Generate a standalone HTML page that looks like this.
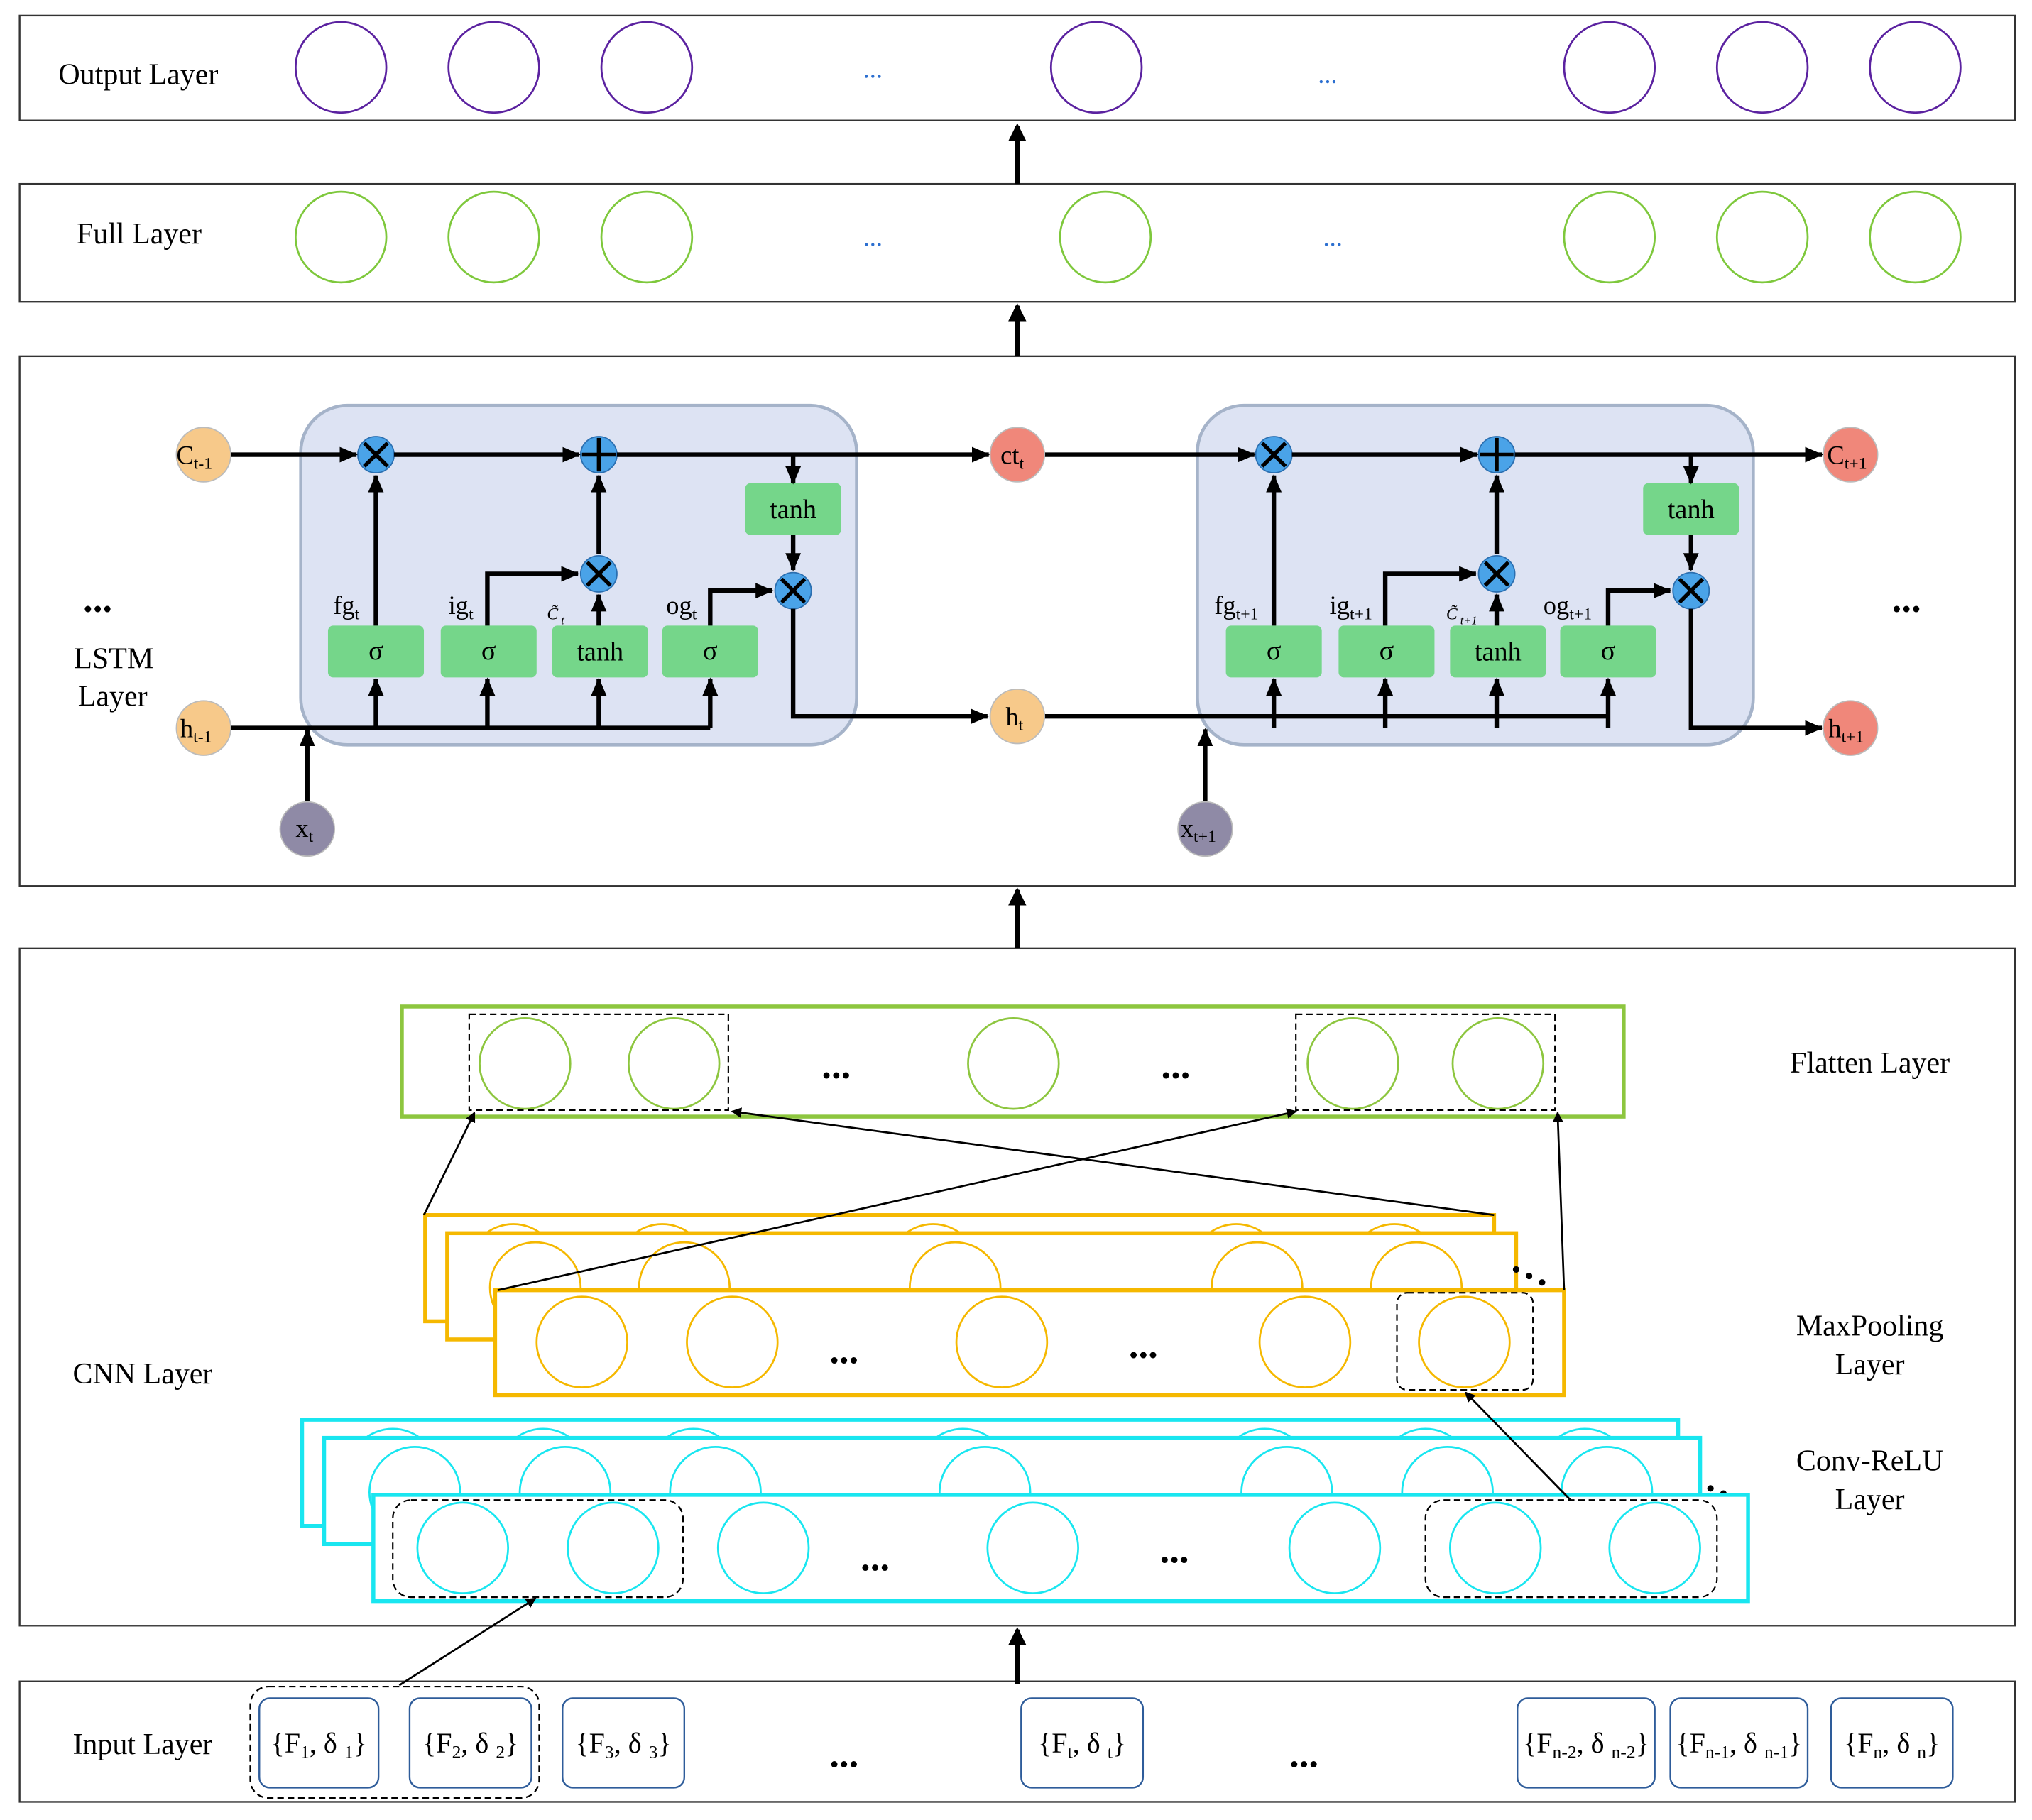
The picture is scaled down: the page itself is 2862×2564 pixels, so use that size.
<!DOCTYPE html>
<html><head><meta charset="utf-8"><style>html,body{margin:0;padding:0;background:#fff}svg{display:block}</style></head><body>
<svg width="2862" height="2564" viewBox="0 0 1568 1405" xmlns="http://www.w3.org/2000/svg" font-family="Liberation Serif, serif">
<defs>
<marker id="ah" markerWidth="8" markerHeight="8" refX="7" refY="4" orient="auto" markerUnits="userSpaceOnUse"><path d="M0,0 L8,4 L0,8 z" fill="#000"/></marker>
<marker id="ab" markerWidth="14" markerHeight="14" refX="12" refY="7" orient="auto" markerUnits="userSpaceOnUse"><path d="M0,0 L14,7 L0,14 z" fill="#000"/></marker>
<marker id="ahs" markerWidth="14" markerHeight="12" refX="13" refY="6" orient="auto" markerUnits="userSpaceOnUse"><path d="M0,0 L14,6 L0,12 z" fill="#000"/></marker>
</defs>
<g fill="none" stroke="#333" stroke-width="1.3">
<rect x="15" y="12" width="1540" height="81"/>
<rect x="15" y="142" width="1540" height="91"/>
<rect x="15" y="275" width="1540" height="409"/>
<rect x="15" y="732" width="1540" height="523"/>
<rect x="15" y="1298" width="1540" height="93"/>
</g>
<g font-size="23" fill="#000">
<text x="45" y="65">Output  Layer</text>
<text x="59" y="188">Full  Layer</text>
<text x="57" y="516">LSTM</text><text x="60" y="545">Layer</text>
<text x="56" y="1068">CNN Layer</text>
<text x="56" y="1354">Input Layer</text>
<text x="1443" y="828" text-anchor="middle">Flatten Layer</text>
<text x="1443" y="1031" text-anchor="middle">MaxPooling</text><text x="1443" y="1061" text-anchor="middle">Layer</text>
<text x="1443" y="1135" text-anchor="middle">Conv-ReLU</text><text x="1443" y="1165" text-anchor="middle">Layer</text>
</g>
<g fill="none" stroke="#5b22a0" stroke-width="1.5">
<circle cx="263" cy="52" r="35"/><circle cx="381" cy="52" r="35"/><circle cx="499" cy="52" r="35"/><circle cx="846" cy="52" r="35"/><circle cx="1242" cy="52" r="35"/><circle cx="1360" cy="52" r="35"/><circle cx="1478" cy="52" r="35"/>
</g>
<g fill="none" stroke="#7ec83c" stroke-width="1.5">
<circle cx="263" cy="183" r="35"/><circle cx="381" cy="183" r="35"/><circle cx="499" cy="183" r="35"/><circle cx="853" cy="183" r="35"/><circle cx="1242" cy="183" r="35"/><circle cx="1360" cy="183" r="35"/><circle cx="1478" cy="183" r="35"/>
</g>
<g fill="#2c6fd0" font-size="20"><text x="666" y="60">...</text><text x="1017" y="64">...</text><text x="666" y="190">...</text><text x="1021" y="190">...</text></g>
<g stroke="#000" stroke-width="3.5">
<line x1="785" y1="142" x2="785" y2="97" marker-end="url(#ab)"/>
<line x1="785" y1="275" x2="785" y2="236" marker-end="url(#ab)"/>
<line x1="785" y1="732" x2="785" y2="687" marker-end="url(#ab)"/>
<line x1="785" y1="1300" x2="785" y2="1258" marker-end="url(#ab)"/>
</g>
<!-- LSTM -->
<g fill="#dde3f3" stroke="#a5b3c9" stroke-width="2.5">
<rect x="232" y="313" width="429" height="262" rx="36"/>
<rect x="924" y="313" width="429" height="262" rx="36"/>
</g>
<g id="cell">
<g fill="#75d68a">
<rect x="253" y="483" width="74" height="40" rx="4"/><rect x="340" y="483" width="74" height="40" rx="4"/><rect x="426" y="483" width="74" height="40" rx="4"/><rect x="511" y="483" width="74" height="40" rx="4"/><rect x="575" y="373" width="74" height="40" rx="4"/>
</g>
<g font-size="21" fill="#000" text-anchor="middle">
<text x="290" y="509">σ</text><text x="377" y="509">σ</text><text x="463" y="510">tanh</text><text x="548" y="509">σ</text><text x="612" y="400">tanh</text>
</g>
<g fill="none" stroke="#000" stroke-width="3.5">
<line x1="290" y1="483" x2="290" y2="367" marker-end="url(#ahs)"/>
<polyline points="376,483 376,443 446,443" marker-end="url(#ahs)"/>
<line x1="462" y1="483" x2="462" y2="459" marker-end="url(#ahs)"/>
<line x1="462" y1="428" x2="462" y2="367" marker-end="url(#ahs)"/>
<polyline points="548,483 548,456 596,456" marker-end="url(#ahs)"/>
<line x1="612" y1="351" x2="612" y2="373" marker-end="url(#ahs)"/>
<line x1="612" y1="413" x2="612" y2="440" marker-end="url(#ahs)"/>
<line x1="290" y1="562" x2="290" y2="524" marker-end="url(#ahs)"/>
<line x1="376" y1="562" x2="376" y2="524" marker-end="url(#ahs)"/>
<line x1="462" y1="562" x2="462" y2="524" marker-end="url(#ahs)"/>
<line x1="548" y1="562" x2="548" y2="524" marker-end="url(#ahs)"/>
</g>
<g fill="#4aa3e8" stroke="#2b6fb0" stroke-width="1">
<circle cx="290" cy="351" r="14"/><circle cx="462" cy="351" r="14"/><circle cx="462" cy="443" r="14"/><circle cx="612" cy="456" r="14"/>
</g>
<g stroke="#000" stroke-width="3">
<path d="M281,342 L299,360 M299,342 L281,360"/>
<path d="M462,338 V364 M449,351 H475"/>
<path d="M453,434 L471,452 M471,434 L453,452"/>
<path d="M603,447 L621,465 M621,447 L603,465"/>
</g>
</g>
<use href="#cell" transform="translate(693,0)"/>
<g fill="none" stroke="#000" stroke-width="3.5">
<line x1="178" y1="351" x2="275" y2="351" marker-end="url(#ahs)"/>
<line x1="304" y1="351" x2="447" y2="351" marker-end="url(#ahs)"/>
<line x1="476" y1="351" x2="763" y2="351" marker-end="url(#ahs)"/>
<line x1="806" y1="351" x2="968" y2="351" marker-end="url(#ahs)"/>
<line x1="997" y1="351" x2="1140" y2="351" marker-end="url(#ahs)"/>
<line x1="1169" y1="351" x2="1406" y2="351" marker-end="url(#ahs)"/>
<polyline points="178,562 548,562"/>
<polyline points="612,470 612,553 762,553" marker-end="url(#ahs)"/>
<polyline points="806,553 1241,553"/>
<polyline points="1305,470 1305,562 1406,562" marker-end="url(#ahs)"/>
<line x1="237" y1="619" x2="237" y2="563" marker-end="url(#ahs)"/>
<line x1="930" y1="619" x2="930" y2="563" marker-end="url(#ahs)"/>
</g>
<g stroke="#bbb" stroke-width="1">
<circle cx="157" cy="351" r="21" fill="#f7c98a"/><circle cx="157" cy="562" r="21" fill="#f7c98a"/>
<circle cx="237" cy="640" r="21" fill="#8f8aa6"/><circle cx="930" cy="640" r="21" fill="#8f8aa6"/>
<circle cx="785" cy="351" r="21" fill="#f0877a"/><circle cx="785" cy="553" r="21" fill="#f7c98a"/>
<circle cx="1428" cy="351" r="21" fill="#f0877a"/><circle cx="1428" cy="562" r="21" fill="#f0877a"/>
</g>
<g font-size="20" fill="#000">
<text x="136" y="358">C<tspan font-size="13" dy="4">t-1</tspan></text>
<text x="139" y="569">h<tspan font-size="13" dy="4">t-1</tspan></text>
<text x="228" y="646">x<tspan font-size="13" dy="4">t</tspan></text>
<text x="911" y="646">x<tspan font-size="13" dy="4">t+1</tspan></text>
<text x="772" y="358">ct<tspan font-size="13" dy="4">t</tspan></text>
<text x="776" y="560">h<tspan font-size="13" dy="4">t</tspan></text>
<text x="1410" y="358">C<tspan font-size="13" dy="4">t+1</tspan></text>
<text x="1411" y="569">h<tspan font-size="13" dy="4">t+1</tspan></text>
<text x="257" y="474">fg<tspan font-size="13" dy="4">t</tspan></text>
<text x="346" y="474">ig<tspan font-size="13" dy="4">t</tspan></text>
<text x="422" y="478" font-size="13" font-style="italic">C̃<tspan font-size="9" dy="4"> t</tspan></text>
<text x="514" y="474">og<tspan font-size="13" dy="4">t</tspan></text>
<text x="937" y="474">fg<tspan font-size="13" dy="4">t+1</tspan></text>
<text x="1026" y="474">ig<tspan font-size="13" dy="4">t+1</tspan></text>
<text x="1116" y="478" font-size="13" font-style="italic">C̃<tspan font-size="9" dy="4"> t+1</tspan></text>
<text x="1191" y="474">og<tspan font-size="13" dy="4">t+1</tspan></text>
</g>
<g font-size="30" font-weight="bold"><text x="64" y="472">...</text><text x="1460" y="472">...</text></g>
<!-- CNN: Flatten -->
<rect x="310" y="777" width="943" height="85" fill="none" stroke="#8dc63f" stroke-width="3"/>
<g fill="none" stroke="#8dc63f" stroke-width="1.5">
<circle cx="405" cy="821" r="35"/><circle cx="520" cy="821" r="35"/><circle cx="782" cy="821" r="35"/><circle cx="1044" cy="821" r="35"/><circle cx="1156" cy="821" r="35"/>
</g>
<g fill="none" stroke="#000" stroke-width="1.2" stroke-dasharray="5,3">
<rect x="362" y="783" width="200" height="74"/><rect x="1000" y="783" width="200" height="74"/>
</g>
<!-- MaxPooling -->
<g stroke="#f5b800" stroke-width="3" fill="#fff">
<rect x="328" y="938" width="825" height="82"/>
<g fill="none" stroke-width="1.5"><circle cx="396" cy="980" r="35"/><circle cx="511" cy="980" r="35"/><circle cx="720" cy="980" r="35"/><circle cx="954" cy="980" r="35"/><circle cx="1076" cy="980" r="35"/></g>
<rect x="345" y="952" width="825" height="82"/>
<g fill="none" stroke-width="1.5"><circle cx="413" cy="994" r="35"/><circle cx="528" cy="994" r="35"/><circle cx="737" cy="994" r="35"/><circle cx="970" cy="994" r="35"/><circle cx="1093" cy="994" r="35"/></g>
<rect x="382" y="996" width="825" height="81"/>
<g fill="none" stroke-width="1.5"><circle cx="449" cy="1036" r="35"/><circle cx="565" cy="1036" r="35"/><circle cx="773" cy="1036" r="35"/><circle cx="1007" cy="1036" r="35"/><circle cx="1130" cy="1036" r="35"/></g>
</g>
<rect x="1078" y="998" width="105" height="75" rx="8" fill="none" stroke="#000" stroke-width="1.2" stroke-dasharray="5,3"/>
<g fill="#000"><circle cx="1170" cy="980" r="2.5"/><circle cx="1180" cy="985" r="2.5"/><circle cx="1190" cy="990" r="2.5"/>
<circle cx="1310" cy="1145" r="2.5"/><circle cx="1320" cy="1149" r="2.5"/><circle cx="1330" cy="1153" r="2.5"/></g>
<!-- Conv -->
<g stroke="#19e6f0" stroke-width="3" fill="#fff">
<rect x="233" y="1096" width="1062" height="82"/>
<g fill="none" stroke-width="1.5"><circle cx="303" cy="1138" r="35"/><circle cx="419" cy="1138" r="35"/><circle cx="535" cy="1138" r="35"/><circle cx="743" cy="1138" r="35"/><circle cx="976" cy="1138" r="35"/><circle cx="1100" cy="1138" r="35"/><circle cx="1223" cy="1138" r="35"/></g>
<rect x="250" y="1110" width="1062" height="82"/>
<g fill="none" stroke-width="1.5"><circle cx="320" cy="1152" r="35"/><circle cx="436" cy="1152" r="35"/><circle cx="552" cy="1152" r="35"/><circle cx="760" cy="1152" r="35"/><circle cx="993" cy="1152" r="35"/><circle cx="1117" cy="1152" r="35"/><circle cx="1240" cy="1152" r="35"/></g>
<rect x="288" y="1154" width="1061" height="82"/>
<g fill="none" stroke-width="1.5"><circle cx="357" cy="1195" r="35"/><circle cx="473" cy="1195" r="35"/><circle cx="589" cy="1195" r="35"/><circle cx="797" cy="1195" r="35"/><circle cx="1030" cy="1195" r="35"/><circle cx="1154" cy="1195" r="35"/><circle cx="1277" cy="1195" r="35"/></g>
</g>
<g fill="none" stroke="#000" stroke-width="1.2" stroke-dasharray="5,3">
<rect x="303" y="1158" width="224" height="75" rx="14"/><rect x="1100" y="1158" width="225" height="75" rx="14"/>
</g>
<g font-size="30" font-weight="bold"><text x="634" y="832">...</text><text x="896" y="832">...</text>
<text x="640" y="1052">...</text><text x="871" y="1048">...</text><text x="664" y="1212">...</text><text x="895" y="1206">...</text>
<text x="640" y="1364">...</text><text x="995" y="1364">...</text></g>
<g stroke="#000" stroke-width="1.5" fill="none">
<line x1="327" y1="938" x2="366" y2="859" marker-end="url(#ah)"/>
<line x1="1153" y1="938" x2="565" y2="858" marker-end="url(#ah)"/>
<line x1="384" y1="996" x2="1000" y2="858" marker-end="url(#ah)"/>
<line x1="1207" y1="996" x2="1202" y2="859" marker-end="url(#ah)"/>
<line x1="1212" y1="1158" x2="1131" y2="1075" marker-end="url(#ah)"/>
<line x1="308" y1="1301" x2="413" y2="1234" marker-end="url(#ah)"/>
</g>
<!-- Input -->
<g fill="none" stroke="#2e5c9a" stroke-width="1.3">
<rect x="200" y="1311" width="92" height="69" rx="8"/><rect x="316" y="1311" width="94" height="69" rx="8"/><rect x="434" y="1311" width="94" height="69" rx="8"/><rect x="788" y="1311" width="94" height="69" rx="8"/><rect x="1171" y="1311" width="106" height="69" rx="8"/><rect x="1289" y="1311" width="106" height="69" rx="8"/><rect x="1413" y="1311" width="94" height="69" rx="8"/>
</g>
<rect x="193" y="1302" width="223" height="86" rx="14" fill="none" stroke="#000" stroke-width="1.2" stroke-dasharray="5,3"/>
<g font-size="22" fill="#000" text-anchor="middle">
<text x="246" y="1353">{F<tspan font-size="14" dy="4">1</tspan><tspan dy="-4">, δ </tspan><tspan font-size="14" dy="4">1</tspan><tspan dy="-4">}</tspan></text>
<text x="363" y="1353">{F<tspan font-size="14" dy="4">2</tspan><tspan dy="-4">, δ </tspan><tspan font-size="14" dy="4">2</tspan><tspan dy="-4">}</tspan></text>
<text x="481" y="1353">{F<tspan font-size="14" dy="4">3</tspan><tspan dy="-4">, δ </tspan><tspan font-size="14" dy="4">3</tspan><tspan dy="-4">}</tspan></text>
<text x="835" y="1353">{F<tspan font-size="14" dy="4">t</tspan><tspan dy="-4">, δ </tspan><tspan font-size="14" dy="4">t</tspan><tspan dy="-4">}</tspan></text>
<text x="1224" y="1353">{F<tspan font-size="14" dy="4">n-2</tspan><tspan dy="-4">, δ </tspan><tspan font-size="14" dy="4">n-2</tspan><tspan dy="-4">}</tspan></text>
<text x="1342" y="1353">{F<tspan font-size="14" dy="4">n-1</tspan><tspan dy="-4">, δ </tspan><tspan font-size="14" dy="4">n-1</tspan><tspan dy="-4">}</tspan></text>
<text x="1460" y="1353">{F<tspan font-size="14" dy="4">n</tspan><tspan dy="-4">, δ </tspan><tspan font-size="14" dy="4">n</tspan><tspan dy="-4">}</tspan></text>
</g>
</svg>
</body></html>
